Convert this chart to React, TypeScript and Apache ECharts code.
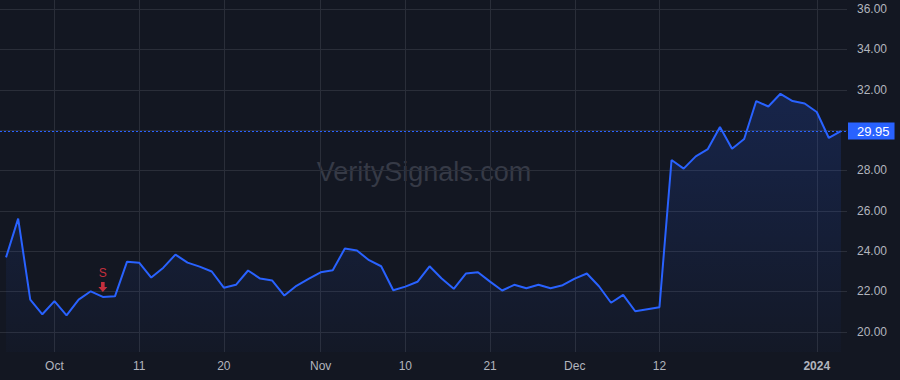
import React, { useEffect, useRef } from "react";
import * as echarts from "echarts";

// Trading days (Sep 26 2023 – Jan 4 2024)
const dates: string[] = [
  "2023-09-26", "2023-09-27", "2023-09-28", "2023-09-29",
  "2023-10-02", "2023-10-03", "2023-10-04", "2023-10-05", "2023-10-06",
  "2023-10-09", "2023-10-10", "2023-10-11", "2023-10-12", "2023-10-13",
  "2023-10-16", "2023-10-17", "2023-10-18", "2023-10-19", "2023-10-20",
  "2023-10-23", "2023-10-24", "2023-10-25", "2023-10-26", "2023-10-27",
  "2023-10-30", "2023-10-31", "2023-11-01", "2023-11-02", "2023-11-03",
  "2023-11-06", "2023-11-07", "2023-11-08", "2023-11-09", "2023-11-10",
  "2023-11-13", "2023-11-14", "2023-11-15", "2023-11-16", "2023-11-17",
  "2023-11-20", "2023-11-21", "2023-11-22", "2023-11-24",
  "2023-11-27", "2023-11-28", "2023-11-29", "2023-11-30", "2023-12-01",
  "2023-12-04", "2023-12-05", "2023-12-06", "2023-12-07", "2023-12-08",
  "2023-12-11", "2023-12-12", "2023-12-13", "2023-12-14", "2023-12-15",
  "2023-12-18", "2023-12-19", "2023-12-20", "2023-12-21", "2023-12-22",
  "2023-12-26", "2023-12-27", "2023-12-28", "2023-12-29",
  "2024-01-02", "2024-01-03", "2024-01-04",
];

const closes: number[] = [
  23.69, 25.61, 21.6, 20.87,
  21.52, 20.82, 21.6, 22.01, 21.73,
  21.76, 23.48, 23.43, 22.69, 23.18,
  23.83, 23.43, 23.23, 22.99, 22.19,
  22.33, 23.04, 22.64, 22.54, 21.8,
  22.28, 22.62, 22.95, 23.05, 24.13,
  24.03, 23.55, 23.25, 22.06, 22.24,
  22.48, 23.25, 22.64, 22.13, 22.89,
  22.95, 22.49, 22.05, 22.33,
  22.16, 22.33, 22.16, 22.31, 22.64,
  22.89, 22.26, 21.44, 21.83, 21.02,
  21.12, 21.22, 28.52, 28.09, 28.7,
  29.06, 30.15, 29.08, 29.56, 31.44,
  31.17, 31.8, 31.44, 31.32,
  30.9, 29.61, 29.95,
];

const tickIndices: number[] = [4, 11, 18, 26, 33, 40, 47, 54, 67];
const tickLabels: string[] = ["Oct", "11", "20", "Nov", "10", "21", "Dec", "12", "2024"];
const boldTicks: string[] = ["2024"];

const signalIndex = 8;
const signalText = "S";
const lastPrice = closes[closes.length - 1];
const watermark = "VeritySignals.com";

const BG = "#131722";
const GRID = "#2a2e39";
const BLUE = "#2962ff";
const RED = "#f23645";
const TEXT = "#b2b5be";
const FONT = "'Liberation Sans', Arial, sans-serif";

export default function App() {
  const ref = useRef<HTMLDivElement>(null);

  useEffect(() => {
    document.body.style.margin = "0";
    document.body.style.background = BG;
    if (!ref.current) return;
    const chart = echarts.init(ref.current, undefined, { renderer: "svg" });

    const lineData = closes.map((v, i) => [i, v]);

    chart.setOption({
      animation: false,
      backgroundColor: BG,
      textStyle: { fontFamily: FONT },
      grid: { left: 0, right: 53, top: 0, bottom: 28, containLabel: false },
      graphic: [
        {
          type: "text",
          x: 424,
          y: 172,
          z: 0,
          silent: true,
          style: {
            text: watermark,
            fontSize: 27,
            fontFamily: FONT,
            fill: "#363a46",
            align: "center",
            verticalAlign: "middle",
            textAlign: "center",
            textVerticalAlign: "middle",
          },
        },
      ],
      xAxis: {
        type: "value",
        min: -0.5,
        max: dates.length - 0.5,
        axisLine: { show: false },
        axisTick: { show: false, customValues: tickIndices },
        splitLine: { show: true, lineStyle: { color: GRID, width: 1 } },
        axisLabel: {
          customValues: tickIndices,
          margin: 8,
          fontSize: 12,
          color: TEXT,
          fontFamily: FONT,
          formatter: (v: number) => {
            const k = tickIndices.indexOf(Math.round(v));
            if (k < 0) return "";
            const t = tickLabels[k];
            return boldTicks.includes(t) ? `{b|${t}}` : t;
          },
          rich: {
            b: { fontWeight: "bold", fontSize: 12, color: TEXT, fontFamily: FONT },
          },
        },
      },
      yAxis: {
        type: "value",
        position: "right",
        min: 19,
        max: 36.45,
        splitNumber: 8,
        axisLine: { show: false },
        axisTick: { show: false },
        splitLine: {
          show: true,
          showMinLine: false,
          showMaxLine: false,
          lineStyle: { color: GRID, width: 1 },
        },
        axisLabel: {
          margin: 10,
          fontSize: 12,
          color: TEXT,
          fontFamily: FONT,
          showMinLabel: false,
          showMaxLabel: false,
          // the tick label hidden behind the last-price tag is not drawn
          formatter: (v: number) => (Math.abs(v - lastPrice) < 1 ? "" : v.toFixed(2)),
        },
      },
      series: [
        {
          type: "line",
          data: lineData,
          showSymbol: false,
          symbol: "none",
          z: 3,
          lineStyle: { color: BLUE, width: 2 },
          areaStyle: {
            origin: "start",
            color: new echarts.graphic.LinearGradient(0, 0, 0, 1, [
              { offset: 0, color: "rgba(41,98,255,0.26)" },
              { offset: 1, color: "rgba(41,98,255,0.03)" },
            ]),
          },
          markLine: {
            silent: true,
            symbol: ["none", "none"],
            animation: false,
            lineStyle: { color: BLUE, type: [2, 2], width: 1 },
            label: {
              show: true,
              position: "end",
              distance: 1,
              formatter: (p: any) => Number(p.value).toFixed(2),
              backgroundColor: BLUE,
              color: "#ffffff",
              fontSize: 13,
              fontFamily: FONT,
              lineHeight: 14,
              padding: [2, 5, 1, 9],
            },
            data: [{ yAxis: lastPrice }],
          },
        },
        {
          type: "scatter",
          z: 4,
          data: [[signalIndex, closes[signalIndex]]],
          symbol: "path://M3,0 L7,0 L7,5 L10,5 L5,10 L0,5 L3,5 Z",
          symbolSize: [9, 10],
          symbolOffset: [0, -10],
          itemStyle: { color: RED },
          label: {
            show: true,
            position: "top",
            distance: 3,
            formatter: signalText,
            color: RED,
            fontSize: 12,
            fontFamily: FONT,
          },
        },
      ],
    });

    return () => chart.dispose();
  }, []);

  return (
    <div
      ref={ref}
      style={{ position: "absolute", left: 0, top: 0, width: 900, height: 380, background: BG }}
    />
  );
}
